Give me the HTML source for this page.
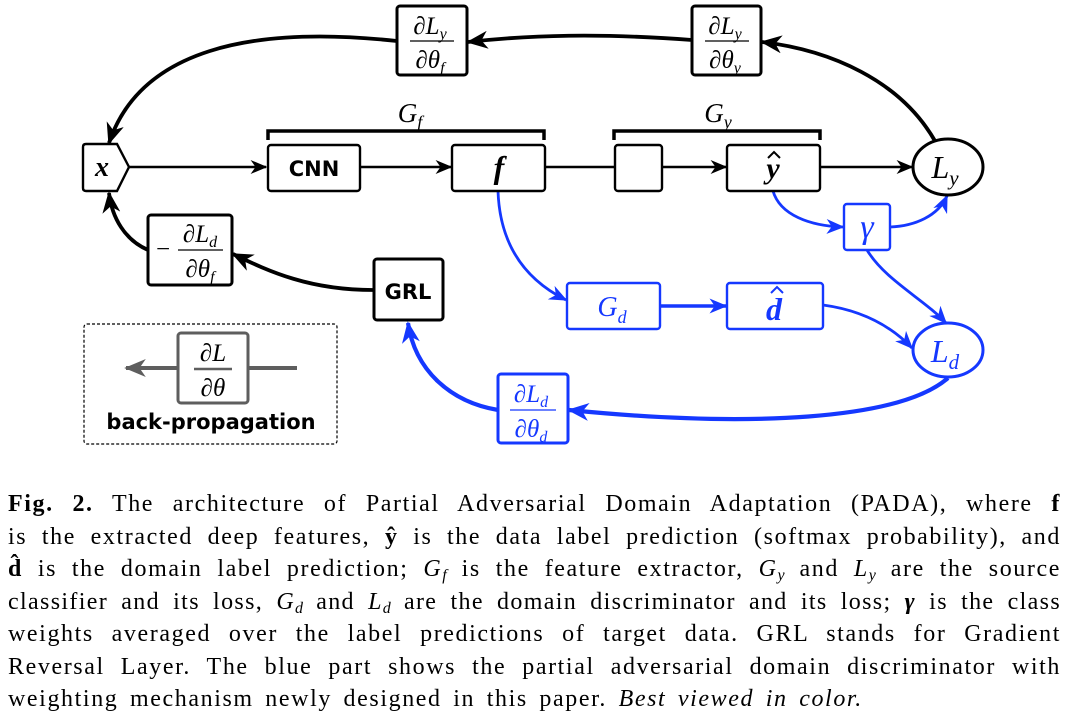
<!DOCTYPE html>
<html><head><meta charset="utf-8"><style>
body{margin:0;background:#fff;width:1068px;height:723px;overflow:hidden;position:relative}
.cap{position:absolute;left:8px;width:1053px;top:488px;font-family:"Liberation Serif",serif;font-size:24px;letter-spacing:1.6px;word-spacing:4px;color:#000}
.cap div{height:32.5px;line-height:32.5px;text-align:justify;text-align-last:justify;white-space:nowrap}
.cap div.last{text-align-last:left}
.cap div.t{letter-spacing:1.35px;word-spacing:2px}
i{font-style:italic}
sub{font-size:16px;vertical-align:-4px;line-height:0;letter-spacing:0}
</style></head><body>
<svg width="1068" height="470" style="position:absolute;left:0;top:0" font-family="Liberation Serif,serif">
<defs>
<marker id="ak" viewBox="0 0 12 10" refX="11" refY="5" markerWidth="17" markerHeight="14" markerUnits="userSpaceOnUse" orient="auto"><path d="M0,0 L12,5 L0,10 L3.5,5z" fill="#000"/></marker>
<marker id="akb" viewBox="0 0 12 10" refX="11" refY="5" markerWidth="22" markerHeight="18" markerUnits="userSpaceOnUse" orient="auto"><path d="M0,0 L12,5 L0,10 L3.5,5z" fill="#000"/></marker>
<marker id="ab" viewBox="0 0 12 10" refX="11" refY="5" markerWidth="18" markerHeight="15" markerUnits="userSpaceOnUse" orient="auto"><path d="M0,0 L12,5 L0,10 L3.5,5z" fill="#1538ff"/></marker>
<marker id="abb" viewBox="0 0 12 10" refX="11" refY="5" markerWidth="22" markerHeight="18" markerUnits="userSpaceOnUse" orient="auto"><path d="M0,0 L12,5 L0,10 L3.5,5z" fill="#1538ff"/></marker>
<marker id="ag" viewBox="0 0 12 10" refX="11" refY="5" markerWidth="22" markerHeight="18" markerUnits="userSpaceOnUse" orient="auto"><path d="M0,0 L12,5 L0,10 L3.5,5z" fill="#5e5e5e"/></marker>
</defs>
<g fill="none" stroke="#000" stroke-width="2.4">
<path d="M129,167 H266" marker-end="url(#ak)"/>
<path d="M360,167 H451" marker-end="url(#ak)"/>
<path d="M545,167 H615"/>
<path d="M662,167 H726" marker-end="url(#ak)"/>
<path d="M820,167 H912" marker-end="url(#ak)"/>
</g>
<g fill="none" stroke="#000" stroke-width="3.8">
<path d="M935,141 C900,80 830,50 762,42" marker-end="url(#akb)"/>
<path d="M692,40 C600,33 530,35 468,42" marker-end="url(#akb)"/>
<path d="M397,41 C250,25 140,50 109,143" marker-end="url(#akb)"/>
<path d="M373,290 C310,290 270,272 233,254" marker-end="url(#akb)"/>
<path d="M148,250 C125,240 112,218 109,193" marker-end="url(#akb)"/>
</g>
<g fill="none" stroke="#1538ff" stroke-width="2.8">
<path d="M498,191 C500,250 530,282 566,300" marker-end="url(#ab)"/>
<path d="M660,306 H726" stroke-width="3.4" marker-end="url(#ab)"/>
<path d="M823,305 C860,310 890,325 912,348" marker-end="url(#ab)"/>
<path d="M773,191 C780,215 810,226 843,227" marker-end="url(#ab)"/>
<path d="M890,227 C915,226 938,216 947,196" marker-end="url(#ab)"/>
<path d="M867,250 C885,280 925,300 946,323" marker-end="url(#ab)"/>
</g>
<g fill="none" stroke="#1538ff" stroke-width="4.2">
<path d="M948,378 C900,420 750,428 569,410" marker-end="url(#abb)"/>
<path d="M498,410 C450,402 415,370 408,323" marker-end="url(#abb)"/>
</g>
<g fill="none" stroke="#000" stroke-width="3.5">
<path d="M268,140 V131 H544 V140"/>
<path d="M614,140 V131 H820 V140"/>
</g>
<text x="410" y="122" font-size="27" font-style="italic" text-anchor="middle">G<tspan font-size="18" dy="6">f</tspan></text>
<text x="718" y="122" font-size="27" font-style="italic" text-anchor="middle">G<tspan font-size="18" dy="6">y</tspan></text>
<g fill="#fff" stroke="#000" stroke-width="2.4">
<path d="M86,144 H117 L129,167 L117,191 H86 Q83,191 83,188 V147 Q83,144 86,144z"/>
<rect x="268" y="145" width="92" height="46" rx="3"/>
<rect x="452" y="145" width="93" height="46" rx="3"/>
<rect x="615" y="145" width="47" height="46" rx="3"/>
<rect x="727" y="145" width="93" height="46" rx="3"/>
<ellipse cx="948" cy="167" rx="35" ry="28" stroke-width="3"/>
<rect x="397" y="6" width="70" height="69" rx="3" stroke-width="3"/>
<rect x="692" y="6" width="69" height="69" rx="3" stroke-width="3"/>
<rect x="148" y="215" width="84" height="70" rx="3" stroke-width="3"/>
<rect x="374" y="259" width="69" height="61" rx="3" stroke-width="3"/>
</g>
<g fill="#fff" stroke="#1538ff" stroke-width="2.4">
<rect x="567" y="283" width="93" height="46" rx="3"/>
<rect x="727" y="283" width="96" height="46" rx="3"/>
<rect x="844" y="204" width="46" height="46" rx="3"/>
<ellipse cx="948" cy="350" rx="35" ry="27" stroke-width="3"/>
<rect x="498" y="374" width="70" height="69" rx="3" stroke-width="3"/>
</g>
<text x="102" y="176" font-size="28" font-style="italic" font-weight="bold" text-anchor="middle">x</text>
<text x="314" y="176" font-size="21" font-weight="bold" font-family="DejaVu Sans,sans-serif" text-anchor="middle">CNN</text>
<text x="499" y="178" font-size="32" font-style="italic" font-weight="bold" text-anchor="middle">f</text>
<text x="773" y="178" font-size="30" font-style="italic" font-weight="bold" text-anchor="middle">y</text>
<path d="M768,158 L774,152 L780,158" fill="none" stroke="#000" stroke-width="2"/>
<text x="945" y="178" font-size="32" font-style="italic" text-anchor="middle">L<tspan font-size="21" dy="7">y</tspan></text>
<text x="408" y="299" font-size="21" font-weight="bold" font-family="DejaVu Sans,sans-serif" text-anchor="middle">GRL</text>
<g fill="#1538ff">
<text x="612" y="316" font-size="28" font-style="italic" text-anchor="middle">G<tspan font-size="18" dy="7">d</tspan></text>
<text x="774" y="320" font-size="32" font-style="italic" font-weight="bold" text-anchor="middle">d</text>
<path d="M771,293 L777,287 L783,293" fill="none" stroke="#1538ff" stroke-width="2"/>
<text x="867" y="238" font-size="34" font-style="italic" text-anchor="middle">γ</text>
<text x="945" y="362" font-size="32" font-style="italic" text-anchor="middle">L<tspan font-size="21" dy="7">d</tspan></text>
</g>
<g font-size="25" font-style="italic">
<text x="430" y="34" text-anchor="middle">∂L<tspan font-size="16" dy="5">y</tspan></text>
<line x1="410" y1="41" x2="454" y2="41" stroke="#000" stroke-width="1.3"/>
<text x="430" y="68" text-anchor="middle">∂θ<tspan font-size="16" dy="5">f</tspan></text>
<text x="725" y="34" text-anchor="middle">∂L<tspan font-size="16" dy="5">y</tspan></text>
<line x1="705" y1="41" x2="749" y2="41" stroke="#000" stroke-width="1.3"/>
<text x="725" y="68" text-anchor="middle">∂θ<tspan font-size="16" dy="5">y</tspan></text>
<text x="156" y="257" font-style="normal">−</text>
<text x="200" y="242" text-anchor="middle">∂L<tspan font-size="16" dy="5">d</tspan></text>
<line x1="178" y1="250" x2="223" y2="250" stroke="#000" stroke-width="1.3"/>
<text x="200" y="277" text-anchor="middle">∂θ<tspan font-size="16" dy="5">f</tspan></text>
<g fill="#1538ff">
<text x="531" y="402" text-anchor="middle">∂L<tspan font-size="16" dy="5">d</tspan></text>
<line x1="510" y1="410" x2="556" y2="410" stroke="#1538ff" stroke-width="1.3"/>
<text x="531" y="437" text-anchor="middle">∂θ<tspan font-size="16" dy="5">d</tspan></text>
</g>
</g>
<rect x="84" y="324" width="253" height="120" rx="3" fill="none" stroke="#000" stroke-width="1.2" stroke-dasharray="3,2"/>
<path d="M178,368 H126" stroke="#5e5e5e" stroke-width="4" fill="none" marker-end="url(#ag)"/>
<path d="M248,368 H297" stroke="#5e5e5e" stroke-width="4" fill="none"/>
<rect x="178" y="333" width="70" height="70" rx="3" fill="#fff" stroke="#5e5e5e" stroke-width="3"/>
<text x="213" y="361" font-size="25" font-style="italic" text-anchor="middle">∂L</text>
<line x1="194" y1="369" x2="232" y2="369" stroke="#5e5e5e" stroke-width="2.5"/>
<text x="213" y="396" font-size="25" font-style="italic" text-anchor="middle">∂θ</text>
<text x="211" y="429" font-size="21" font-weight="bold" font-family="DejaVu Sans,sans-serif" text-anchor="middle">back-propagation</text>
</svg>
<div class="cap">
<div><b>Fig. 2.</b> The architecture of Partial Adversarial Domain Adaptation (PADA), where <b>f</b></div>
<div>is the extracted deep features, <b>ŷ</b> is the data label prediction (softmax probability), and</div>
<div><b>d̂</b> is the domain label prediction; <i>G<sub>f</sub></i> is the feature extractor, <i>G<sub>y</sub></i> and <i>L<sub>y</sub></i> are the source</div>
<div class="t">classifier and its loss, <i>G<sub>d</sub></i> and <i>L<sub>d</sub></i> are the domain discriminator and its loss; <b><i>γ</i></b> is the class</div>
<div>weights averaged over the label predictions of target data. GRL stands for Gradient</div>
<div>Reversal Layer. The blue part shows the partial adversarial domain discriminator with</div>
<div class="last">weighting mechanism newly designed in this paper. <i>Best viewed in color.</i></div>
</div>
</body></html>
